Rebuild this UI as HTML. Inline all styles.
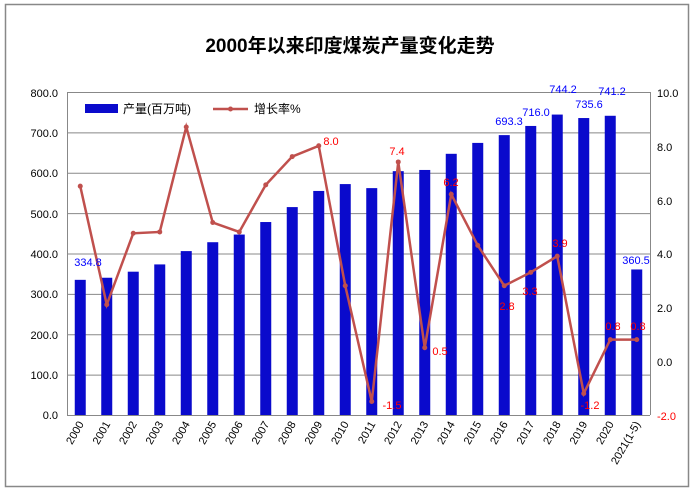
<!DOCTYPE html>
<html><head><meta charset="utf-8"><style>
body{margin:0;background:#fff}
svg text{font-family:"Liberation Sans","Noto Sans CJK SC",sans-serif}
</style></head><body>
<svg width="695" height="492" xmlns="http://www.w3.org/2000/svg">
<rect x="0" y="0" width="695" height="492" fill="#fff"/>
<rect x="5.5" y="4.5" width="683" height="482" fill="none" stroke="#888" stroke-width="1.5"/>
<text x="350" y="52" text-anchor="middle" font-size="19" font-weight="bold" fill="#000">2000年以来印度煤炭产量变化走势</text>
<g stroke="#888" stroke-width="1">
<line x1="67" y1="92.5" x2="650" y2="92.5"/>
<line x1="67" y1="132.9" x2="650" y2="132.9"/>
<line x1="67" y1="173.3" x2="650" y2="173.3"/>
<line x1="67" y1="213.6" x2="650" y2="213.6"/>
<line x1="67" y1="254" x2="650" y2="254"/>
<line x1="67" y1="294.4" x2="650" y2="294.4"/>
<line x1="67" y1="334.7" x2="650" y2="334.7"/>
<line x1="67" y1="375.1" x2="650" y2="375.1"/>
<line x1="67" y1="415.5" x2="650" y2="415.5"/>
<line x1="67.5" y1="92" x2="67.5" y2="415"/>
<line x1="650.5" y1="92" x2="650.5" y2="415"/>
</g>
<g font-size="11" fill="#000" text-anchor="end">
<text x="58" y="97">800.0</text><text x="58" y="137">700.0</text><text x="58" y="177">600.0</text><text x="58" y="218">500.0</text><text x="58" y="258">400.0</text><text x="58" y="298">300.0</text><text x="58" y="339">200.0</text><text x="58" y="379">100.0</text><text x="58" y="419">0.0</text>
</g>
<g font-size="11" fill="#000">
<text x="657" y="97">10.0</text><text x="657" y="151">8.0</text><text x="657" y="205">6.0</text><text x="657" y="258">4.0</text><text x="657" y="312">2.0</text><text x="657" y="366">0.0</text><text x="657" y="420" fill="#f00">-2.0</text>
</g>
<g id="bars" fill="#0a0acc"></g>
<g id="xl" font-size="11" fill="#000"></g>
<polyline id="ln" fill="none" stroke="#c0504d" stroke-width="2.5"/>
<g id="mk" fill="#c0504d"></g>
<g font-size="11" fill="#00f" text-anchor="middle">
<text x="88" y="266">334.8</text><text x="509" y="125">693.3</text><text x="536" y="116">716.0</text><text x="563" y="93">744.2</text><text x="589" y="108">735.6</text><text x="612" y="95">741.2</text><text x="636" y="264">360.5</text>
</g>
<g font-size="11" fill="#f00" text-anchor="middle">
<text x="331" y="145">8.0</text><text x="397" y="155">7.4</text><text x="451" y="186">6.2</text><text x="560" y="247">3.9</text><text x="507" y="310">2.8</text><text x="530" y="295">3.3</text><text x="392" y="409">-1.5</text><text x="440" y="355">0.5</text><text x="590" y="409">-1.2</text><text x="613" y="330">0.8</text><text x="638" y="330">0.8</text>
</g>
<rect x="85" y="104" width="33" height="9" fill="#0a0acc"/>
<text x="123" y="113" font-size="12" fill="#000">产量(百万吨)</text>
<line x1="213" y1="109" x2="248" y2="109" stroke="#c0504d" stroke-width="2.5"/>
<circle cx="230.5" cy="109" r="2.5" fill="#c0504d"/>
<text x="254" y="113" font-size="12" fill="#000">增长率%</text>
<script>
var b=[334.8,340,355,373,406,428,447,478,515,555,572,562,604,607,647,674,693.3,716,744.2,735.6,741.2,360.5];
var g=[6.5,2.1,4.75,4.8,8.7,5.15,4.8,6.55,7.6,8.0,2.8,-1.5,7.4,0.5,6.2,4.3,2.8,3.3,3.9,-1.2,0.8,0.8];
var lab=["2000","2001","2002","2003","2004","2005","2006","2007","2008","2009","2010","2011","2012","2013","2014","2015","2016","2017","2018","2019","2020","2021(1-5)"];
var NS="http://www.w3.org/2000/svg",pts=[];
for(var i=0;i<22;i++){var cx=67+13.25+26.5*i;var h=b[i]*0.4037;
var r=document.createElementNS(NS,"rect");r.setAttribute("x",cx-5.5);r.setAttribute("y",415-h);r.setAttribute("width",11);r.setAttribute("height",h);document.getElementById("bars").appendChild(r);
var y=415-(g[i]+2)*26.92;pts.push(cx+","+y);
var c=document.createElementNS(NS,"circle");c.setAttribute("cx",cx);c.setAttribute("cy",y);c.setAttribute("r",2.5);document.getElementById("mk").appendChild(c);
var t=document.createElementNS(NS,"text");t.setAttribute("transform","translate("+(cx+4)+",424) rotate(-60)");t.setAttribute("text-anchor","end");t.textContent=lab[i];document.getElementById("xl").appendChild(t);}
document.getElementById("ln").setAttribute("points",pts.join(" "));
</script>
</svg>
</body></html>
